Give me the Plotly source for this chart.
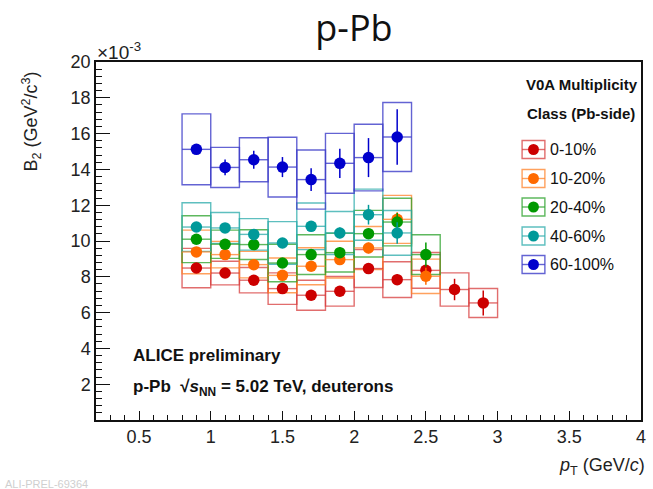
import numpy as np
import plotly.graph_objects as go

# ---------------- data ----------------
pt_bins = [0.9, 1.1, 1.3, 1.5, 1.7, 1.9, 2.1, 2.3, 2.5, 2.7, 2.9]
bin_half = 0.1

classes = ["0-10%", "10-20%", "20-40%", "40-60%", "60-100%"]

b2_0_10 = [8.49, 8.21, 7.81, 7.34, 6.97, 7.19, 8.46, 7.84, 8.36, 7.29, 6.54]
stat_0_10 = [0.2, 0.2, 0.2, 0.2, 0.2, 0.2, 0.25, 0.3, 0.3, 0.6, 0.7]
sys_0_10 = [1.10, 0.66, 0.71, 0.88, 0.84, 0.83, 1.06, 1.00, 1.00, 0.93, 0.81]

b2_10_20 = [9.39, 9.24, 8.68, 8.08, 8.59, 8.96, 9.61, 11.21, 8.03]
stat_10_20 = [0.2, 0.2, 0.2, 0.25, 0.25, 0.25, 0.3, 0.4, 0.47]
sys_10_20 = [1.22, 0.74, 0.74, 0.97, 1.03, 1.03, 1.20, 1.34, 0.96]

b2_20_40 = [10.10, 9.82, 9.80, 8.77, 9.24, 9.35, 10.41, 11.06, 9.24]
stat_20_40 = [0.2, 0.2, 0.2, 0.25, 0.25, 0.3, 0.3, 0.5, 0.67]
sys_20_40 = [1.31, 0.79, 0.83, 1.05, 1.11, 1.08, 1.30, 1.33, 1.11]

b2_40_60 = [10.78, 10.73, 10.37, 9.89, 10.82, 10.45, 11.47, 10.45]
stat_40_60 = [0.2, 0.2, 0.2, 0.25, 0.3, 0.3, 0.55, 0.6]
sys_40_60 = [1.36, 0.86, 0.88, 1.19, 1.30, 1.20, 1.43, 1.25]

b2_60_100 = [15.12, 14.11, 14.54, 14.13, 13.43, 14.34, 14.66, 15.81]
stat_60_100 = [0.2, 0.44, 0.5, 0.56, 0.63, 0.82, 1.09, 1.55]
sys_60_100 = [1.98, 1.12, 1.23, 1.67, 1.65, 1.67, 1.86, 1.93]

y_ticks = [2, 4, 6, 8, 10, 12, 14, 16, 18, 20]
x_ticks = [0.5, 1, 1.5, 2, 2.5, 3, 3.5, 4]

series = [
    (classes[0], b2_0_10, stat_0_10, sys_0_10, "#cc0000", "rgba(215,60,60,0.75)"),
    (classes[1], b2_10_20, stat_10_20, sys_10_20, "#ff6a00", "rgba(255,130,40,0.75)"),
    (classes[2], b2_20_40, stat_20_40, sys_20_40, "#009900", "rgba(40,160,40,0.75)"),
    (classes[3], b2_40_60, stat_40_60, sys_40_60, "#009999", "rgba(40,170,170,0.75)"),
    (classes[4], b2_60_100, stat_60_100, sys_60_100, "#0000cc", "rgba(60,60,200,0.8)"),
]

FONT = "Liberation Sans, Arial, Helvetica, sans-serif"

fig = go.Figure()

# systematic boxes
for name, vals, stat, sysv, mcol, bcol in series:
    v = np.array(vals)
    s = np.array(sysv)
    x = pt_bins[:len(v)]
    fig.add_trace(go.Bar(
        x=x, y=2 * s, base=v - s, width=2 * bin_half,
        marker=dict(color="rgba(0,0,0,0)", line=dict(color=bcol, width=1.4)),
        showlegend=False, hoverinfo="skip",
    ))

# points with stat errors
for name, vals, stat, sysv, mcol, bcol in series:
    x = pt_bins[:len(vals)]
    fig.add_trace(go.Scatter(
        x=x, y=vals, mode="markers", name=name,
        marker=dict(color=mcol, size=11.5, symbol="circle"),
        error_y=dict(type="data", array=stat, color=mcol, thickness=1.5, width=0),
        error_x=dict(type="data", array=[bin_half] * len(x), color=bcol, thickness=1.4, width=0),
        showlegend=False,
    ))

shapes = []
annotations = []


def px2paper_x(px):
    return (px - 96) / 550.0


def px2paper_y(py):
    return (420 - py) / 358.0


# manual legend (ROOT style)
annotations.append(dict(text="<b>V0A Multiplicity</b>", x=px2paper_x(586), y=px2paper_y(84),
                        xref="paper", yref="paper", showarrow=False, xanchor="center", yanchor="middle",
                        font=dict(family=FONT, size=15, color="#111")))
annotations.append(dict(text="<b>Class (Pb-side)</b>", x=px2paper_x(585), y=px2paper_y(114),
                        xref="paper", yref="paper", showarrow=False, xanchor="center", yanchor="middle",
                        font=dict(family=FONT, size=15, color="#111")))

leg_y = [149.5, 178.5, 207, 236, 264.5]
for (name, vals, stat, sysv, mcol, bcol), ly in zip(series, leg_y):
    x0, x1 = px2paper_x(526), px2paper_x(549)
    y0, y1 = px2paper_y(ly + 9), px2paper_y(ly - 9)
    shapes.append(dict(type="rect", xref="paper", yref="paper", x0=x0, x1=x1, y0=y0, y1=y1,
                       line=dict(color=bcol, width=1.4)))
    shapes.append(dict(type="line", xref="paper", yref="paper", x0=x0, x1=x1,
                       y0=px2paper_y(ly), y1=px2paper_y(ly), line=dict(color=bcol, width=1.4)))
    shapes.append(dict(type="circle", xref="paper", yref="paper",
                       x0=px2paper_x(537.5 - 5.5), x1=px2paper_x(537.5 + 5.5),
                       y0=px2paper_y(ly + 5.5), y1=px2paper_y(ly - 5.5),
                       fillcolor=mcol, line=dict(color=mcol, width=0)))
    annotations.append(dict(text=name, x=px2paper_x(552), y=px2paper_y(ly),
                            xref="paper", yref="paper", showarrow=False, xanchor="left", yanchor="middle",
                            font=dict(family=FONT, size=16, color="#111")))

# ALICE labels
annotations.append(dict(text="<b>ALICE preliminary</b>", x=px2paper_x(131), y=px2paper_y(355),
                        xref="paper", yref="paper", showarrow=False, xanchor="left", yanchor="middle",
                        font=dict(family=FONT, size=17, color="#111")))
annotations.append(dict(text="<b>p-Pb  √<i>s</i><sub>NN</sub> = 5.02 TeV, deuterons</b>",
                        x=px2paper_x(131), y=px2paper_y(388),
                        xref="paper", yref="paper", showarrow=False, xanchor="left", yanchor="middle",
                        font=dict(family=FONT, size=17, color="#111")))

# axis exponent
annotations.append(dict(text="×10<sup>-3</sup>", x=px2paper_x(95), y=px2paper_y(51),
                        xref="paper", yref="paper", showarrow=False, xanchor="left", yanchor="middle",
                        font=dict(family=FONT, size=19, color="#222")))

# axis titles
annotations.append(dict(text="B<sub>2</sub> (GeV<sup>2</sup>/c<sup>3</sup>)", x=px2paper_x(30), y=px2paper_y(122),
                        xref="paper", yref="paper", showarrow=False, textangle=-90,
                        xanchor="center", yanchor="middle",
                        font=dict(family=FONT, size=18, color="#222")))
annotations.append(dict(text="<i>p</i><sub>T</sub> (GeV/<i>c</i>)", x=px2paper_x(652), y=px2paper_y(466),
                        xref="paper", yref="paper", showarrow=False, xanchor="right", yanchor="middle",
                        font=dict(family=FONT, size=18, color="#222")))

# watermark
annotations.append(dict(text="ALI-PREL-69364", x=px2paper_x(2), y=px2paper_y(484),
                        xref="paper", yref="paper", showarrow=False, xanchor="left", yanchor="middle",
                        font=dict(family=FONT, size=11, color="#cfcfcf")))

fig.update_layout(
    width=653, height=489,
    margin=dict(l=96, r=7, t=62, b=69),
    paper_bgcolor="white", plot_bgcolor="white",
    barmode="overlay",
    showlegend=False,
    title=dict(text="p-Pb", x=354 / 653, xref="container", xanchor="center",
               y=1 - 28 / 489, yref="container", yanchor="middle",
               font=dict(family="Open Sans, sans-serif", size=36, color="#111")),
    shapes=shapes,
    annotations=annotations,
)

fig.update_xaxes(
    range=[0.2, 4.0], tickvals=x_ticks, ticktext=[f"{t:g}" for t in x_ticks],
    ticks="inside", ticklen=9, tickwidth=1.3, tickcolor="#111",
    minor=dict(dtick=0.1, ticks="inside", ticklen=5, tickwidth=1.2, tickcolor="#111", showgrid=False),
    showline=True, linecolor="#111", linewidth=1.5, mirror=True,
    showgrid=False, zeroline=False,
    tickfont=dict(family=FONT, size=18, color="#222"),
)
fig.update_yaxes(
    range=[0, 20], tickvals=y_ticks, ticktext=[str(t) for t in y_ticks],
    ticks="inside", ticklen=14, tickwidth=1.3, tickcolor="#111",
    minor=dict(dtick=0.4, ticks="inside", ticklen=6, tickwidth=1.2, tickcolor="#111", showgrid=False),
    showline=True, linecolor="#111", linewidth=1.5, mirror=True,
    showgrid=False, zeroline=False,
    tickfont=dict(family=FONT, size=18, color="#222"),
)

fig.write_html("out.html")
